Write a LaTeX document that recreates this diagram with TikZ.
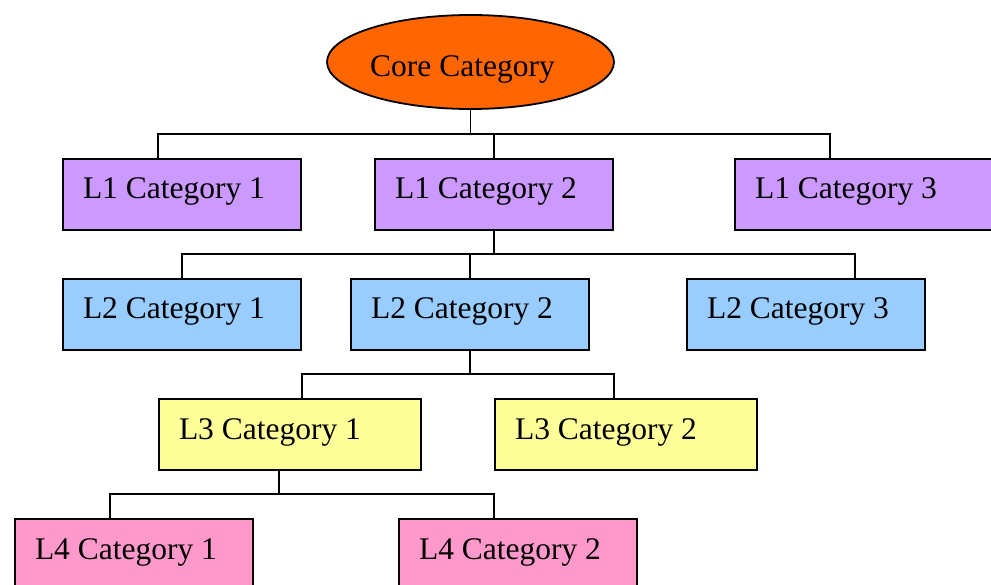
\documentclass[tikz,border=0pt]{standalone}
\usepackage{fontspec}
\setmainfont{Liberation Serif}
\definecolor{coreorange}{HTML}{FF6600}
\definecolor{levelone}{HTML}{CC99FF}
\definecolor{leveltwo}{HTML}{99CCFF}
\definecolor{levelthree}{HTML}{FFFF99}
\definecolor{levelfour}{HTML}{FF99CC}
\tikzset{
  catbox/.style={rectangle, draw=black, line width=1.8pt, outer sep=0pt,
    inner xsep=20pt, inner ysep=0pt, text height=40pt, text depth=31pt,
    text width=198pt, align=flush left, anchor=north west,
    font=\fontsize{31.5}{36}\selectfont},
  widebox/.style={catbox, text width=222pt},
  coreshape/.style={ellipse, draw=black, line width=1.8pt, fill=coreorange,
    minimum width=287pt, minimum height=94pt, inner sep=0pt, outer sep=0pt},
  corelabel/.style={anchor=base west, inner sep=0pt,
    font=\fontsize{31.5}{36}\selectfont},
  link/.style={draw=black, line width=1.7pt}
}
\usetikzlibrary{shapes.geometric}
\begin{document}
\begin{tikzpicture}[x=1pt, y=-1pt]
  \useasboundingbox (0,0) rectangle (991,585);
  \clip (0,0) rectangle (991,585);

  % root
  \node[coreshape] (core) at (470.5,62) {};
  \node[corelabel] (core-t) at (370,77) {Core Category};

  % bus heights of the four branch levels
  \coordinate (bus1) at (0,134);
  \coordinate (bus2) at (0,254);
  \coordinate (bus3) at (0,374);
  \coordinate (bus4) at (0,494);

  % level 1
  \node[catbox, fill=levelone] (l1a) at (63,159) {L1 Category 1};
  \node[catbox, fill=levelone] (l1b) at (375,159) {L1 Category 2};
  \node[widebox, fill=levelone] (l1c) at (735,159) {L1 Category 3};

  % level 2
  \node[catbox, fill=leveltwo] (l2a) at (63,279) {L2 Category 1};
  \node[catbox, fill=leveltwo] (l2b) at (351,279) {L2 Category 2};
  \node[catbox, fill=leveltwo] (l2c) at (687,279) {L2 Category 3};

  % level 3
  \node[widebox, fill=levelthree] (l3a) at (159,399) {L3 Category 1};
  \node[widebox, fill=levelthree] (l3b) at (495,399) {L3 Category 2};

  % level 4
  \node[catbox, fill=levelfour] (l4a) at (15,519) {L4 Category 1};
  \node[catbox, fill=levelfour] (l4b) at (399,519) {L4 Category 2};

  % connectors
  \draw[link] (core.south) -- (core.south |- bus1) -| ([xshift=95pt]l1a.north west);
  \draw[link] (core.south) -- (core.south |- bus1) -| (l1b.north);
  \draw[link] (core.south) -- (core.south |- bus1) -| ([xshift=95pt]l1c.north west);

  \draw[link] (l1b.south) -- (l1b.south |- bus2) -| (l2a.north);
  \draw[link] (l1b.south) -- (l1b.south |- bus2) -| (l2b.north);
  \draw[link] (l1b.south) -- (l1b.south |- bus2) -| ([xshift=168pt]l2c.north west);

  \draw[link] (l2b.south) -- (l2b.south |- bus3) -| ([xshift=143pt]l3a.north west);
  \draw[link] (l2b.south) -- (l2b.south |- bus3) -| ([xshift=119pt]l3b.north west);

  \draw[link] ([xshift=120pt]l3a.south west) -- ([xshift=120pt]l3a.south west |- bus4) -| ([xshift=95pt]l4a.north west);
  \draw[link] ([xshift=120pt]l3a.south west) -- ([xshift=120pt]l3a.south west |- bus4) -| ([xshift=95pt]l4b.north west);
\end{tikzpicture}
\end{document}
